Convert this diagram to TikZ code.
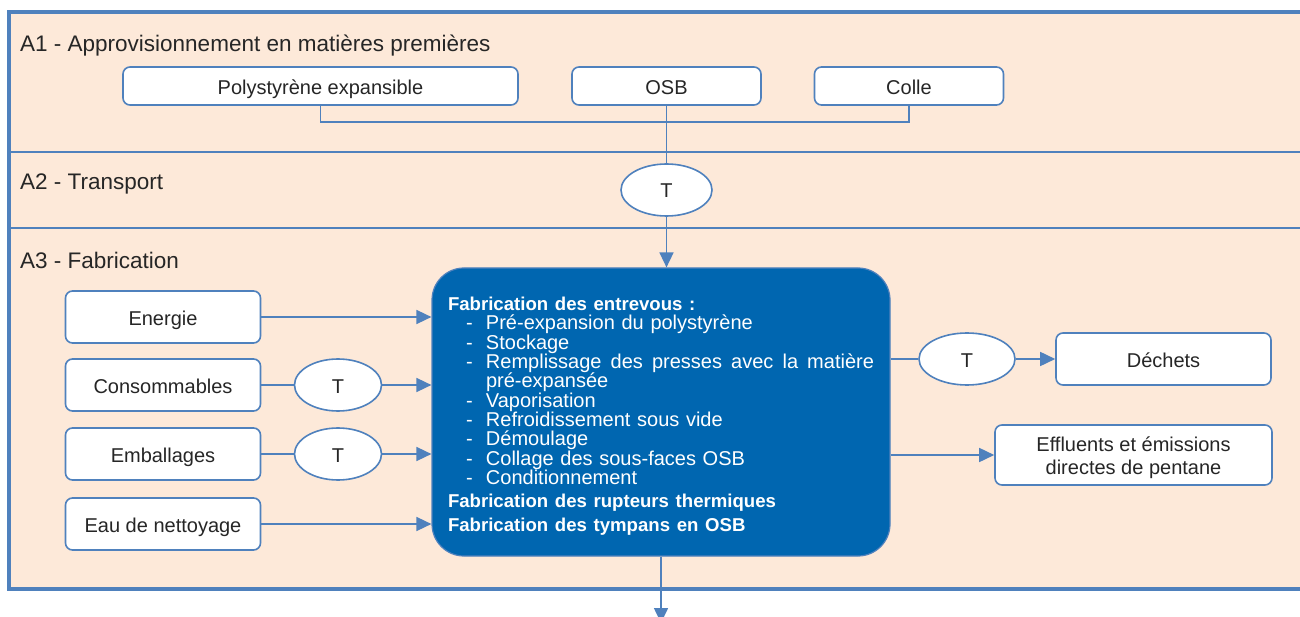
\documentclass[tikz,border=0pt]{standalone}
\usepackage{fontspec}
\setmainfont{Liberation Sans}
\usetikzlibrary{arrows.meta,shapes.geometric}

\definecolor{peach}{HTML}{FDE9D9}
\definecolor{frameblue}{HTML}{4F81BD}
\definecolor{procblue}{RGB}{0,102,176}
\definecolor{inktext}{HTML}{262626}

\newcommand\procstep[1]{\hspace*{18pt}\makebox[20pt][l]{-}#1}

\tikzset{
  stagelabel/.style={anchor=west, inner sep=0pt, text=inktext, font=\fontsize{22.5}{26}\selectfont},
  inbox/.style={draw=frameblue, line width=1.6pt, fill=white, rounded corners=7pt,
    minimum height=52pt, inner sep=0pt, text height=17pt, text depth=0pt,
    text=inktext, font=\fontsize{20}{23}\selectfont},
  tbox/.style={ellipse, draw=frameblue, line width=1.6pt, fill=white, inner sep=0pt,
    minimum width=87pt, minimum height=52pt, text height=16pt, text depth=0pt,
    text=inktext, font=\fontsize{20}{23}\selectfont},
  procbox/.style={rectangle, rounded corners=32pt, draw=frameblue, line width=1.2pt,
    fill=procblue, text=white, text width=426pt, inner xsep=16pt, inner ysep=0pt,
    minimum height=288pt, align=left, font=\fontsize{20}{19.3}\selectfont},
  link/.style={frameblue, line width=1.6pt},
  flow/.style={link, -{Triangle[length=15pt,width=14pt]}},
}

\begin{document}
\begin{tikzpicture}[x=1pt,y=-1pt]
    \useasboundingbox (0,0) rectangle (1300,617);

    % Stage bands
    \fill[peach] (9,12) rectangle (1310,589);
    \draw[link] (9,152) -- (1310,152);
    \draw[link] (9,228) -- (1310,228);
    \draw[frameblue, line width=3.5pt] (1310,12) -- (9,12) -- (9,589) -- (1310,589);

    % Stage titles
    \node[stagelabel] (titleA1) at (20,46) {A1 - Approvisionnement en matières premières};
    \node[stagelabel] (titleA2) at (20,184) {A2 - Transport};
    \node[stagelabel] (titleA3) at (20,260) {A3 - Fabrication};

    % Raw materials
    \node[inbox, minimum width=395pt, minimum height=38pt] (poly) at (320.5,86) {Polystyrène expansible};
    \node[inbox, minimum width=189pt, minimum height=38pt] (osb) at (666.5,86) {OSB};
    \node[inbox, minimum width=189pt, minimum height=38pt] (colle) at (909,86) {Colle};
    \coordinate (bus) at (0,122);

    % Transport
    \node[tbox, minimum width=91pt] (tA2) at (666.5,190) {T};

    % Manufacturing
    \node[procbox] (proc) at (661,412) {%
        {\bfseries\fontsize{18.6}{19.3}\selectfont\rule{0pt}{22.5pt}Fabrication des entrevous :}\\
        \procstep{Pré-expansion du polystyrène}\\
        \procstep{Stockage}\\
        \procstep{\makebox[388pt][l]{Remplissage\hfill des\hfill presses\hfill avec\hfill la\hfill matière}}\\
        \hspace*{38pt}pré-expansée\\
        \procstep{Vaporisation}\\
        \procstep{Refroidissement sous vide}\\
        \procstep{Démoulage}\\
        \procstep{Collage des sous-faces OSB}\\
        \procstep{Conditionnement}\\[3.5pt]
        {\bfseries\fontsize{18.6}{19.3}\selectfont Fabrication des rupteurs thermiques}\\[5.5pt]
        {\bfseries\fontsize{18.6}{19.3}\selectfont Fabrication des tympans en OSB}};

    % Inputs
    \node[inbox, minimum width=195pt] (energie) at (163,317) {Energie};
    \node[inbox, minimum width=195pt] (conso) at (163,385) {Consommables};
    \node[inbox, minimum width=195pt] (embal) at (163,454) {Emballages};
    \node[inbox, minimum width=195pt] (eau) at (163,524) {Eau de nettoyage};
    \node[tbox] (tConso) at (338,385) {T};
    \node[tbox] (tEmbal) at (338,454) {T};

    % Outputs
    \node[tbox, minimum width=96pt] (tDechets) at (967,359) {T};
    \node[inbox, minimum width=215pt] (dechets) at (1163.5,359) {Déchets};
    \node[inbox, minimum width=277pt, minimum height=60pt, align=center,
          text height=, text depth=] (effluents) at (1133.5,455)
        {\rule{0pt}{20.5pt}Effluents et émissions\\directes de pentane};
    \coordinate (aval) at (661,623);

    % Draw lines
    \draw[link] (poly.south) -- (poly.south |- bus) -- (colle.south |- bus) -- (colle.south);
    \draw[link] (osb.south) -- (tA2.north);
    \draw[flow] (tA2.south) -- (tA2.south |- proc.north);
    \draw[flow] (energie.east) -- (energie.east -| proc.west);
    \draw[link] (conso.east) -- (tConso.west);
    \draw[flow] (tConso.east) -- (tConso.east -| proc.west);
    \draw[link] (embal.east) -- (tEmbal.west);
    \draw[flow] (tEmbal.east) -- (tEmbal.east -| proc.west);
    \draw[flow] (eau.east) -- (eau.east -| proc.west);
    \draw[link] (proc.east |- tDechets) -- (tDechets.west);
    \draw[flow] (tDechets.east) -- (dechets.west);
    \draw[flow] (proc.east |- effluents) -- (effluents.west);
    \draw[flow] (proc.south) -- (aval);

\end{tikzpicture}
\end{document}
